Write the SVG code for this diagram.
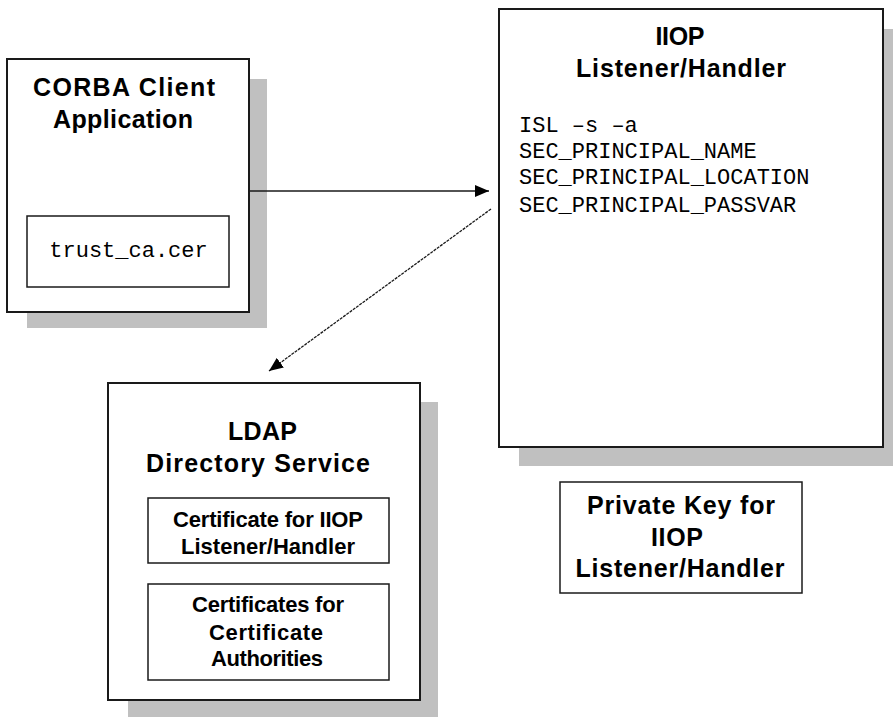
<svg xmlns="http://www.w3.org/2000/svg" width="894" height="717" viewBox="0 0 894 717">
<defs>
<style>
.shadow{fill:#c0c0c0;stroke:none}
.box{fill:#fff;stroke:#1a1a1a;stroke-width:2}
.inner{fill:#fff;stroke:#1a1a1a;stroke-width:1.5}
.t{font-family:"Liberation Sans",Arial,sans-serif;font-weight:bold;fill:#000;text-anchor:middle}
.big{font-size:25px}
.small{font-size:22px}
.mono{font-family:"Liberation Mono","Courier New",monospace;font-size:22px;fill:#000}
.conn{stroke:#1a1a1a;stroke-width:1.3;fill:none}
</style>
<marker id="ah" viewBox="0 0 14 12" refX="14" refY="6" markerWidth="14" markerHeight="12" markerUnits="userSpaceOnUse" orient="auto">
<path d="M0,0 L14,6 L0,12 Z" fill="#000"/>
</marker>
</defs>
<rect width="894" height="717" fill="#fff"/>

<g id="client">
<rect class="shadow" x="27" y="79" width="240" height="249"/>
<rect class="box" x="7" y="59" width="242" height="253"/>
<text class="t big" x="124" y="96" textLength="182" lengthAdjust="spacing">CORBA Client</text>
<text class="t big" x="123" y="128" textLength="140" lengthAdjust="spacing">Application</text>
<g id="trust">
<rect class="inner" x="27" y="216" width="202" height="71"/>
<text class="mono" x="128.5" y="257" text-anchor="middle">trust_ca.cer</text>
</g>
</g>

<g id="iiop">
<rect class="shadow" x="519" y="29" width="374" height="437"/>
<rect class="box" x="499" y="9" width="384" height="438"/>
<text class="t big" x="680" y="45" textLength="49" lengthAdjust="spacing">IIOP</text>
<text class="t big" x="681" y="77" textLength="210" lengthAdjust="spacing">Listener/Handler</text>
<text class="mono" x="519" y="132">ISL –s –a</text>
<text class="mono" x="519" y="158">SEC_PRINCIPAL_NAME</text>
<text class="mono" x="519" y="184">SEC_PRINCIPAL_LOCATION</text>
<text class="mono" x="519" y="212">SEC_PRINCIPAL_PASSVAR</text>
</g>

<g id="ldap">
<rect class="shadow" x="128" y="402" width="310" height="316"/>
<rect class="box" x="108" y="383" width="312" height="317"/>
<text class="t big" x="262.5" y="440" textLength="69" lengthAdjust="spacing">LDAP</text>
<text class="t big" x="258" y="472" textLength="224" lengthAdjust="spacing">Directory Service</text>
<g id="cert-iiop">
<rect class="inner" x="148" y="498" width="241" height="65"/>
<text class="t small" x="268" y="527" textLength="190" lengthAdjust="spacing">Certificate for IIOP</text>
<text class="t small" x="268" y="554" textLength="174" lengthAdjust="spacing">Listener/Handler</text>
</g>
<g id="cert-ca">
<rect class="inner" x="148" y="584" width="241" height="96"/>
<text class="t small" x="268" y="612" textLength="152" lengthAdjust="spacing">Certificates for</text>
<text class="t small" x="266" y="640" textLength="114" lengthAdjust="spacing">Certificate</text>
<text class="t small" x="267" y="666" textLength="112" lengthAdjust="spacing">Authorities</text>
</g>
</g>

<g id="privkey">
<rect class="inner" x="560" y="482" width="242" height="111"/>
<text class="t big" x="681" y="514" textLength="188" lengthAdjust="spacing">Private Key for</text>
<text class="t big" x="677" y="546" textLength="52" lengthAdjust="spacing">IIOP</text>
<text class="t big" x="680" y="577" textLength="209" lengthAdjust="spacing">Listener/Handler</text>
</g>

<g id="connectors">
<line class="conn" x1="250" y1="191" x2="489" y2="191" marker-end="url(#ah)"/>
<line class="conn" x1="491" y1="209" x2="269" y2="371" stroke-dasharray="3 1" marker-end="url(#ah)"/>
</g>
</svg>
